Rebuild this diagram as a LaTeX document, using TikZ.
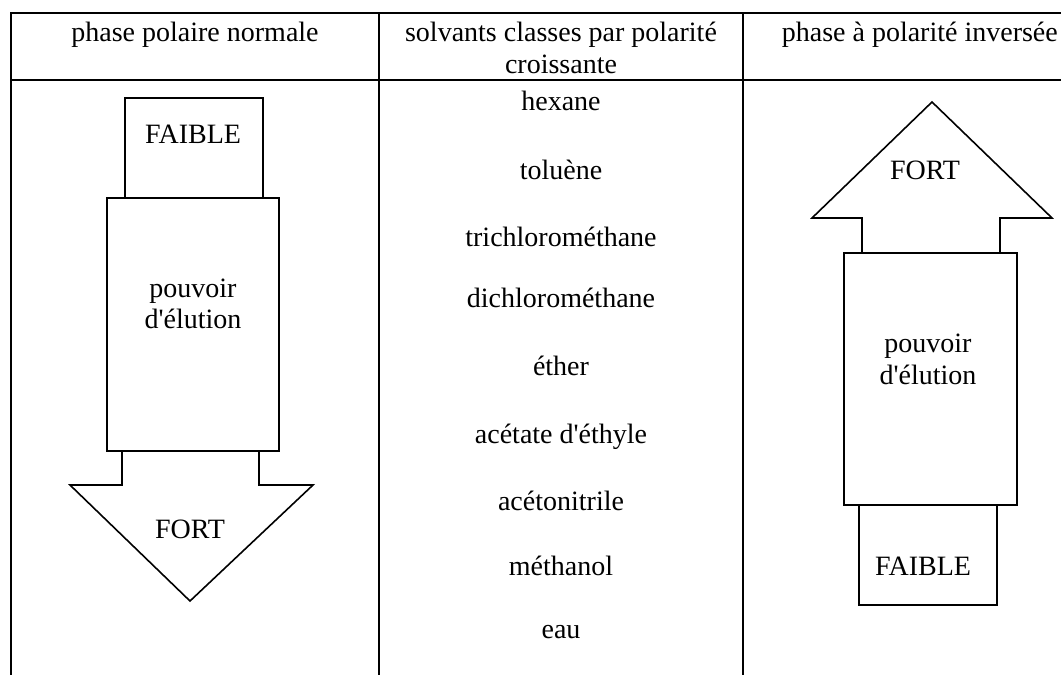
\documentclass[tikz,border=0pt]{standalone}
\usepackage{fontspec}
\setmainfont{Liberation Serif}[Ligatures=TeXOff]
\begin{document}
\begin{tikzpicture}[x=1pt,y=-1pt,
  txt/.style={font=\fontsize{28}{31}\selectfont, inner sep=0pt, anchor=base},
  rule/.style={line width=1.8pt, black},
  arrowline/.style={line width=1.6pt, black, line join=miter}]
\useasboundingbox (0,0) rectangle (1061,675);
% table rules
\draw[rule] (10,13) -- (1061,13);
\draw[rule] (10,80) -- (1061,80);
\draw[line width=2.8pt] (11,12) -- (11,675);
\draw[rule] (379,13) -- (379,675);
\draw[rule] (743,13) -- (743,675);
% headers
\node[txt] (h1) at (195,41) {phase polaire normale};
\node[txt] (h2a) at (561,41) {solvants classes par polarité};
\node[txt] (h2b) at (561,73) {croissante};
\node[txt, anchor=base east] (h3) at (1058,41) {phase à polarité inversée};
% solvents
\node[txt] (s1) at (561,110) {hexane};
\node[txt] (s2) at (561,179) {toluène};
\node[txt] (s3) at (561,246) {trichlorométhane};
\node[txt] (s4) at (561,307) {dichlorométhane};
\node[txt] (s5) at (561,375) {éther};
\node[txt] (s6) at (561,443) {acétate d'éthyle};
\node[txt] (s7) at (561,510) {acétonitrile};
\node[txt] (s8) at (561,575) {méthanol};
\node[txt] (s9) at (561,638) {eau};
% left arrow (normal phase)
\draw[arrowline] (125,198) -- (125,98) -- (263,98) -- (263,198);
\draw[arrowline] (107,198) rectangle (279,451);
\draw[arrowline] (122,451) -- (122,485) -- (70,485) -- (190,601) -- (313,485) -- (259,485) -- (259,451);
\node[txt] (lf) at (193,143) {FAIBLE};
\node[txt] (lp1) at (193,297) {pouvoir};
\node[txt] (lp2) at (193,328) {d'élution};
\node[txt] (lF) at (190,538) {FORT};
% right arrow (reversed phase)
\draw[arrowline] (862,253) -- (862,218) -- (812,218) -- (932,102) -- (1052,218) -- (1000,218) -- (1000,253);
\draw[arrowline] (844,253) rectangle (1017,505);
\draw[arrowline] (859,505) -- (859,605) -- (997,605) -- (997,505);
\node[txt] (rF) at (925,179) {FORT};
\node[txt] (rp1) at (928,352) {pouvoir};
\node[txt] (rp2) at (928,384) {d'élution};
\node[txt] (rf) at (923,575) {FAIBLE};
\end{tikzpicture}
\end{document}
